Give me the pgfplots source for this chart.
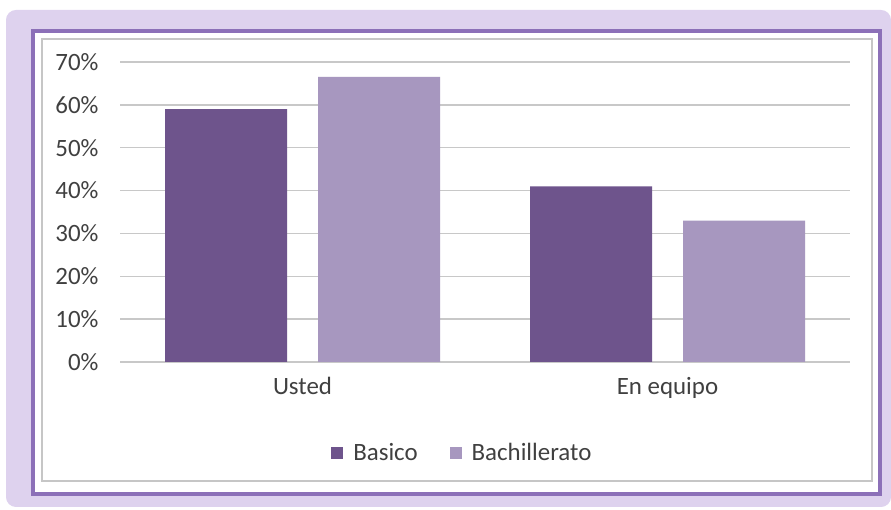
\documentclass[border=0pt]{standalone}
\usepackage{fontspec}
\setmainfont{Carlito}
\usepackage{pgfplots}
\pgfplotsset{compat=1.18}
\definecolor{basico}{RGB}{110,84,140}
\definecolor{bach}{RGB}{167,151,191}
\definecolor{glow}{RGB}{222,210,238}
\definecolor{frame}{RGB}{140,112,184}
\definecolor{txt}{RGB}{64,64,64}
\definecolor{gridc}{RGB}{200,200,200}

\begin{document}
\begin{tikzpicture}[x=1bp,y=1bp]
\useasboundingbox (0,0) rectangle (891,510);
% frame around the chart
\fill[glow, rounded corners=10] (6,3) rectangle (891,500);
\fill[white] (33,16) rectangle (880,479);
\draw[frame, line width=4] (33,16) rectangle (880,479);
\draw[gray!45, line width=1.5] (42,29) rectangle (872,471);

\begin{axis}[
    at={(120bp,148bp)}, anchor=south west,
    scale only axis,
    width=730bp, height=300bp,
    ybar=31bp, bar width=122bp,
    xmin=-0.5, xmax=1.5,
    ymin=0, ymax=70,
    xtick={0,1}, xticklabels={Usted, En equipo},
    ytick={0,10,...,70},
    yticklabel={\pgfmathprintnumber{\tick}\%},
    /pgf/number format/assume math mode=true,
    ymajorgrids,
    major grid style={gridc, line width=1.5bp},
    axis line style={draw=none},
    major tick length=0pt,
    tick label style={font=\fontsize{25}{28}\selectfont, text=txt},
    yticklabel style={xshift=-18bp},
    xticklabel style={yshift=-12bp},
    legend style={at={(0.469,-0.303)}, anchor=center, draw=none,
        font=\fontsize{25}{28}\selectfont, text=txt,
        /tikz/every even column/.append style={column sep=30bp}},
    legend columns=2,
    legend image code/.code={\fill[#1] (0bp,-6bp) rectangle (12bp,6bp);
        \path (20bp,0bp);},
]
\addplot[fill=basico, draw=none] coordinates {(0,59) (1,41)};
\addplot[fill=bach, draw=none] coordinates {(0,66.5) (1,33)};
\legend{Basico, Bachillerato}
\end{axis}
\end{tikzpicture}
\end{document}
